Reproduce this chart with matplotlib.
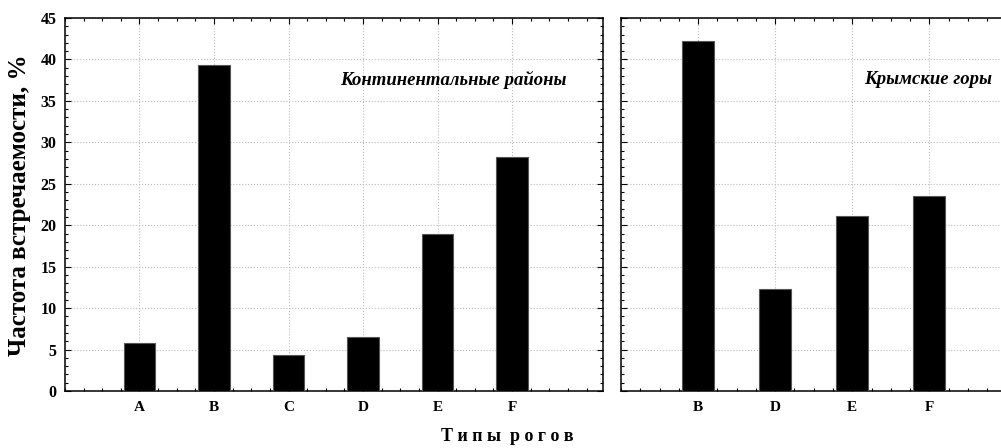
import matplotlib
matplotlib.use("Agg")
import matplotlib.pyplot as plt
from matplotlib.ticker import MultipleLocator

plt.rcParams['font.family'] = ['Liberation Serif', 'DejaVu Serif']

# Данные
cats_left = ['A', 'B', 'C', 'D', 'E', 'F']
vals_left = [5.8, 39.3, 4.3, 6.5, 19.0, 28.2]
cats_right = ['B', 'D', 'E', 'F']
vals_right = [42.2, 12.3, 21.1, 23.5]
title_left = 'Континентальные районы'
title_right = 'Крымские горы'
ylabel = 'Частота встречаемости, %'
xlabel = 'Т и п ы  р о г о в'

fig = plt.figure(figsize=(10.01, 4.48), dpi=100)
ax1 = fig.add_axes([0.0649, 0.1272, 0.5375, 0.8326])
ax2 = fig.add_axes([0.6204, 0.1272, 0.3896, 0.8326])


def style_axis(ax, cats, vals, xmax, label, lab_x):
    pos = list(range(1, len(cats) + 1))
    ax.bar(pos, vals, width=0.42, color='black', edgecolor='#555555', linewidth=0.8, zorder=3)
    ax.set_xlim(0, xmax)
    ax.set_ylim(0, 45)
    ax.set_xticks(pos)
    ax.set_xticklabels(cats, fontsize=11, fontweight='bold')
    ax.xaxis.set_minor_locator(MultipleLocator(0.25))
    ax.yaxis.set_major_locator(MultipleLocator(5))
    ax.yaxis.set_minor_locator(MultipleLocator(1))
    ax.tick_params(which='both', direction='in', top=True, right=True, width=0.8)
    ax.tick_params(which='major', length=4)
    ax.tick_params(which='minor', length=2.5)
    ax.tick_params(axis='x', pad=7.5)
    ax.grid(True, which='major', linestyle=':', color='#bbbbbb', linewidth=0.8, zorder=0)
    for sp in ax.spines.values():
        sp.set_linewidth(1.1)
    ax.text(lab_x, 0.834, label, transform=ax.transAxes, ha='right', va='center',
            fontsize=13.5, fontweight='bold', fontstyle='italic')


style_axis(ax1, cats_left, vals_left, 7.22, title_left, 0.933)
style_axis(ax2, cats_right, vals_right, 5.06, title_right, 0.951)

for lab in ax1.get_yticklabels():
    lab.set_fontweight('bold')
    lab.set_fontsize(11.5)
ax1.tick_params(axis='y', pad=6)
ax2.set_yticklabels([])

fig.text(0.019, 0.542, ylabel, rotation=90, ha='center', va='center',
         fontsize=18, fontweight='bold')
fig.text(0.507, 0.025, xlabel, ha='center', va='center', fontsize=13, fontweight='bold')

fig.savefig('out.png', dpi=100)
